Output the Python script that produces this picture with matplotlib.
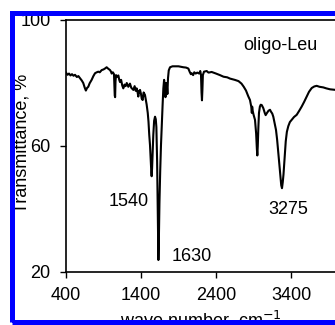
import matplotlib
matplotlib.use("Agg")
import matplotlib.pyplot as plt
from matplotlib.patches import Rectangle

plt.rcParams['font.family'] = ['Liberation Sans', 'DejaVu Sans']
plt.rcParams['font.size'] = 13

# IR spectrum of oligo-Leu (wave number cm-1, transmittance %)
wavenumber = [
    400, 420, 440, 460, 480, 500, 520, 545, 565, 590, 610, 630, 650, 665, 680,
    697, 715, 742, 765, 787, 810, 831, 850, 876, 900, 920, 942, 960, 987, 1000,
    1009, 1025, 1040, 1050, 1055, 1060, 1067, 1085, 1098, 1110, 1120, 1135,
    1150, 1164, 1180, 1195, 1210, 1231, 1253, 1270, 1298, 1315, 1330, 1342,
    1355, 1364, 1375, 1387, 1400, 1410, 1422, 1435, 1453, 1465, 1475, 1490,
    1500, 1510, 1520, 1530, 1538, 1542, 1548, 1556, 1564, 1575, 1587, 1597,
    1605, 1615, 1623, 1628, 1632, 1638, 1646, 1656, 1666, 1676, 1688, 1698,
    1708, 1718, 1726, 1734, 1745, 1752, 1760, 1770, 1787, 1820, 1853, 1900,
    1940, 1964, 2000, 2031, 2050, 2065, 2076, 2095, 2110, 2130, 2150, 2175,
    2190, 2200, 2207, 2213, 2219, 2225, 2240, 2276, 2300, 2342, 2400, 2453,
    2500, 2550, 2587, 2650, 2700, 2740, 2770, 2800, 2830, 2853, 2870, 2878,
    2882, 2889, 2900, 2920, 2935, 2945, 2951, 2957, 2965, 2973, 2985, 2996,
    3010, 3031, 3050, 3062, 3080, 3100, 3120, 3133, 3150, 3164, 3180, 3200,
    3215, 3231, 3245, 3260, 3270, 3280, 3290, 3300, 3310, 3320, 3330, 3345,
    3364, 3385, 3409, 3440, 3476, 3510, 3542, 3575, 3609, 3640, 3676, 3710,
    3742, 3780, 3831, 3870, 3920, 3960, 4000,
]
transmittance = [
    83.3, 82.6, 83.0, 82.4, 82.8, 82.3, 82.6, 81.9, 82.2, 81.4, 80.8, 80.0, 78.5, 77.6, 78.4,
    78.8, 79.9, 81.0, 82.2, 83.1, 83.4, 83.6, 83.4, 84.1, 84.3, 84.6, 85.0, 84.6, 84.1, 83.6,
    83.0, 83.4, 82.8, 76.0, 75.5, 80.5, 82.5, 82.0, 82.4, 81.0, 80.3, 81.0,
    79.2, 78.3, 79.5, 79.0, 80.0, 78.8, 79.8, 78.5, 77.8, 79.0, 77.5, 78.3,
    77.0, 75.7, 77.5, 77.8, 76.5, 75.0, 74.6, 77.0, 76.2, 74.5, 73.2, 70.5,
    67.7, 63.5, 60.3, 55.0, 51.5, 50.4, 53.0, 58.5, 63.5, 68.0, 69.3, 68.5,
    66.0, 55.0, 40.0, 28.0, 23.8, 30.0, 42.0, 52.0, 60.0, 66.0, 73.0, 78.3,
    81.0, 79.0, 75.5, 80.0, 79.0, 76.5, 81.5, 84.0, 85.0, 85.3, 85.3, 85.3,
    85.1, 85.0, 84.9, 84.6, 83.5, 82.8, 83.1, 82.5, 83.4, 83.0, 83.3, 83.0,
    83.8, 82.5, 77.0, 74.5, 78.0, 82.5, 83.6, 83.8, 83.3, 83.5, 83.0, 82.5,
    82.0, 81.8, 81.4, 81.0, 80.6, 79.8, 78.8, 77.6, 75.8, 74.6, 72.5, 70.5,
    72.5, 71.2, 70.0, 68.3, 64.0, 59.0, 57.0, 60.0, 66.0, 70.5, 72.5, 73.1,
    73.0, 72.0, 70.5, 69.8, 70.5, 71.2, 71.5, 70.9, 70.3, 69.3, 67.5, 65.1,
    62.0, 57.7, 54.0, 50.0, 47.5, 46.6, 48.5, 51.0, 54.5, 58.5, 61.5, 64.5,
    66.3, 67.6, 68.3, 69.2, 69.9, 71.2, 72.5, 74.0, 75.7, 77.2, 78.4, 78.9,
    79.1, 78.8, 78.6, 78.3, 78.0, 77.9, 77.8,
]

peak_labels = ["1540", "1630", "3275"]
peak_label_x = [1240, 2080, 3360]
peak_label_y = [42.5, 24.8, 39.7]

fig = plt.figure(figsize=(3.35, 3.25), dpi=100)
ax = fig.add_axes([66 / 335, 53 / 325, 270 / 335, 252 / 325])

ax.plot(wavenumber, transmittance, color='black', lw=1.5)

ax.set_xlim(400, 4000)
ax.set_ylim(20, 100)
ax.set_xticks([400, 1400, 2400, 3400])
ax.set_yticks([20, 60, 100])
ax.tick_params(direction='out', length=4.5, width=1, pad=6.5)
for s in ax.spines.values():
    s.set_linewidth(1.2)

ax.set_xlabel("wave number, cm$^{-1}$", labelpad=3.3)
ax.set_ylabel("Transmittance, %")
ax.yaxis.set_label_coords(-0.133, 0.51)

ax.text(3253, 92, "oligo-Leu", ha='center', va='center')
for lab, x, y in zip(peak_labels, peak_label_x, peak_label_y):
    ax.text(x, y, lab, ha='center', va='center')

# blue frame around the picture
border = Rectangle((12.5 / 335, 3.5 / 325), (337 - 12.5) / 335, (312.5 - 3.5) / 325,
                   transform=fig.transFigure, fill=False, edgecolor='#0000ff',
                   lw=3.6, zorder=10)
fig.add_artist(border)

fig.savefig("out.png", dpi=100)
